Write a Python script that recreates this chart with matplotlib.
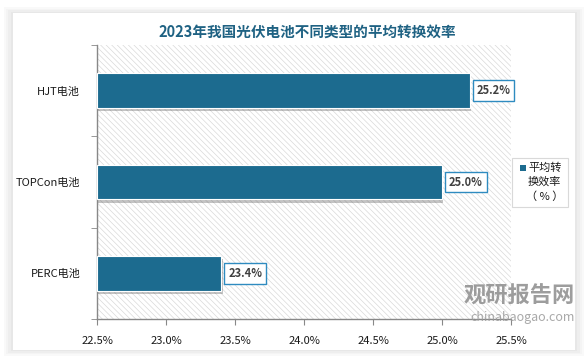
import matplotlib
matplotlib.use("Agg")
import matplotlib.pyplot as plt
import matplotlib.patheffects as pe
from matplotlib.patches import Rectangle

plt.rcParams['font.family'] = ['Noto Sans CJK SC', 'DejaVu Sans']
plt.rcParams['hatch.linewidth'] = 0.5
plt.rcParams['hatch.color'] = '#d9d9d9'

categories = ["PERC电池", "TOPCon电池", "HJT电池"]
values = [23.4, 25.0, 25.2]
xticks = [22.5, 23.0, 23.5, 24.0, 24.5, 25.0, 25.5]
xlabels = ["22.5%", "23.0%", "23.5%", "24.0%", "24.5%", "25.0%", "25.5%"]

bar_color = "#1c6b8f"
title_color = "#1f6283"

fig = plt.figure(figsize=(5.88, 3.63), dpi=100)
fig.patch.set_facecolor("white")

# card with soft shadow
for i, a in enumerate([0.05, 0.05, 0.06, 0.08]):
    d = (4 - i) * 0.004
    fig.patches.append(Rectangle((0.022 - d, 0.036 - d), 0.956 + 2 * d, 0.928 + 2 * d,
                                 transform=fig.transFigure, facecolor="#9a9a9a",
                                 edgecolor="none", alpha=a, zorder=-3))
fig.patches.append(Rectangle((0.022, 0.036), 0.956, 0.928, transform=fig.transFigure,
                             facecolor="white", edgecolor="none", zorder=-2))

ax = fig.add_axes([97 / 588, 1 - 319 / 363, 414 / 588, 274 / 363])
ax.set_zorder(1)
ax.set_facecolor("none")
ax.add_patch(Rectangle((0, 0), 1, 1, transform=ax.transAxes, facecolor="white",
                       hatch="\\\\\\\\\\\\", edgecolor="#d9d9d9", linewidth=0, zorder=0))

y = range(len(categories))
bars = ax.barh(y, [v - xticks[0] for v in values], left=xticks[0], height=0.38,
               color=bar_color, edgecolor="white", linewidth=0.8, zorder=3)
for b in bars:
    b.set_path_effects([pe.SimplePatchShadow(offset=(1, -2.5), shadow_rgbFace="#555555", alpha=0.35),
                        pe.Normal()])

for yi, v in zip(y, values):
    ax.text(v + 0.05, yi, f"{v:.1f}%", va="center", ha="left", fontsize=8,
            color="#404040", fontweight="bold", zorder=5,
            bbox=dict(boxstyle="square,pad=0.35", facecolor="white", edgecolor="#2e8bc0", linewidth=1.0))

ax.set_xlim(22.5, 25.5)
ax.set_ylim(-0.5, 2.5)
ax.set_xticks(xticks)
ax.set_xticklabels(xlabels, fontsize=8, color="#1a1a1a")
ax.set_yticks(list(y))
ax.set_yticklabels(categories, fontsize=8, color="#1a1a1a")
ax.tick_params(axis="y", length=0, pad=12)
ax.set_yticks([-0.5, 0.5, 1.5, 2.5], minor=True)
ax.tick_params(axis="y", which="minor", length=4, color="#888888", direction="out")
ax.tick_params(axis="x", length=4, color="#888888", direction="out", pad=8)
for s in ["top", "right"]:
    ax.spines[s].set_visible(False)
for s in ["left", "bottom"]:
    ax.spines[s].set_color("#888888")
    ax.spines[s].set_linewidth(1.0)

fig.text(307 / 588, 1 - 32 / 363, "2023年我国光伏电池不同类型的平均转换效率", ha="center", va="center",
         fontsize=10.5, fontweight="bold", color=title_color)

# legend
fig.patches.append(Rectangle((512 / 588, 1 - 207 / 363), 56 / 588, 49 / 363, transform=fig.transFigure,
                             facecolor="white", edgecolor="#d9d9d9", linewidth=0.8, zorder=2))
fig.patches.append(Rectangle((520 / 588, 1 - 171 / 363), 6 / 588, 6 / 363, transform=fig.transFigure,
                             facecolor=bar_color, edgecolor="none", zorder=3))
fig.text(528 / 588, 1 - 168 / 363, "平均转", fontsize=8, va="center", ha="left", color="#1a1a1a", zorder=4)
fig.text(528 / 588, 1 - 182 / 363, "换效率", fontsize=8, va="center", ha="left", color="#1a1a1a", zorder=4)
fig.text(545 / 588, 1 - 197 / 363, "（ % ）", fontsize=8, va="center", ha="center", color="#1a1a1a", zorder=4)

# watermark
fig.text(575 / 588, 1 - 296 / 363, "观研报告网", fontsize=16, fontweight="bold", ha="right", va="center",
         color="#8c8c8c", alpha=0.85, zorder=6)
fig.text(575 / 588, 1 - 318 / 363, "chinabaogao.com", fontsize=9, ha="right", va="center",
         color="#9a9a9a", alpha=0.85, zorder=6)

fig.savefig("out.png", dpi=100)
